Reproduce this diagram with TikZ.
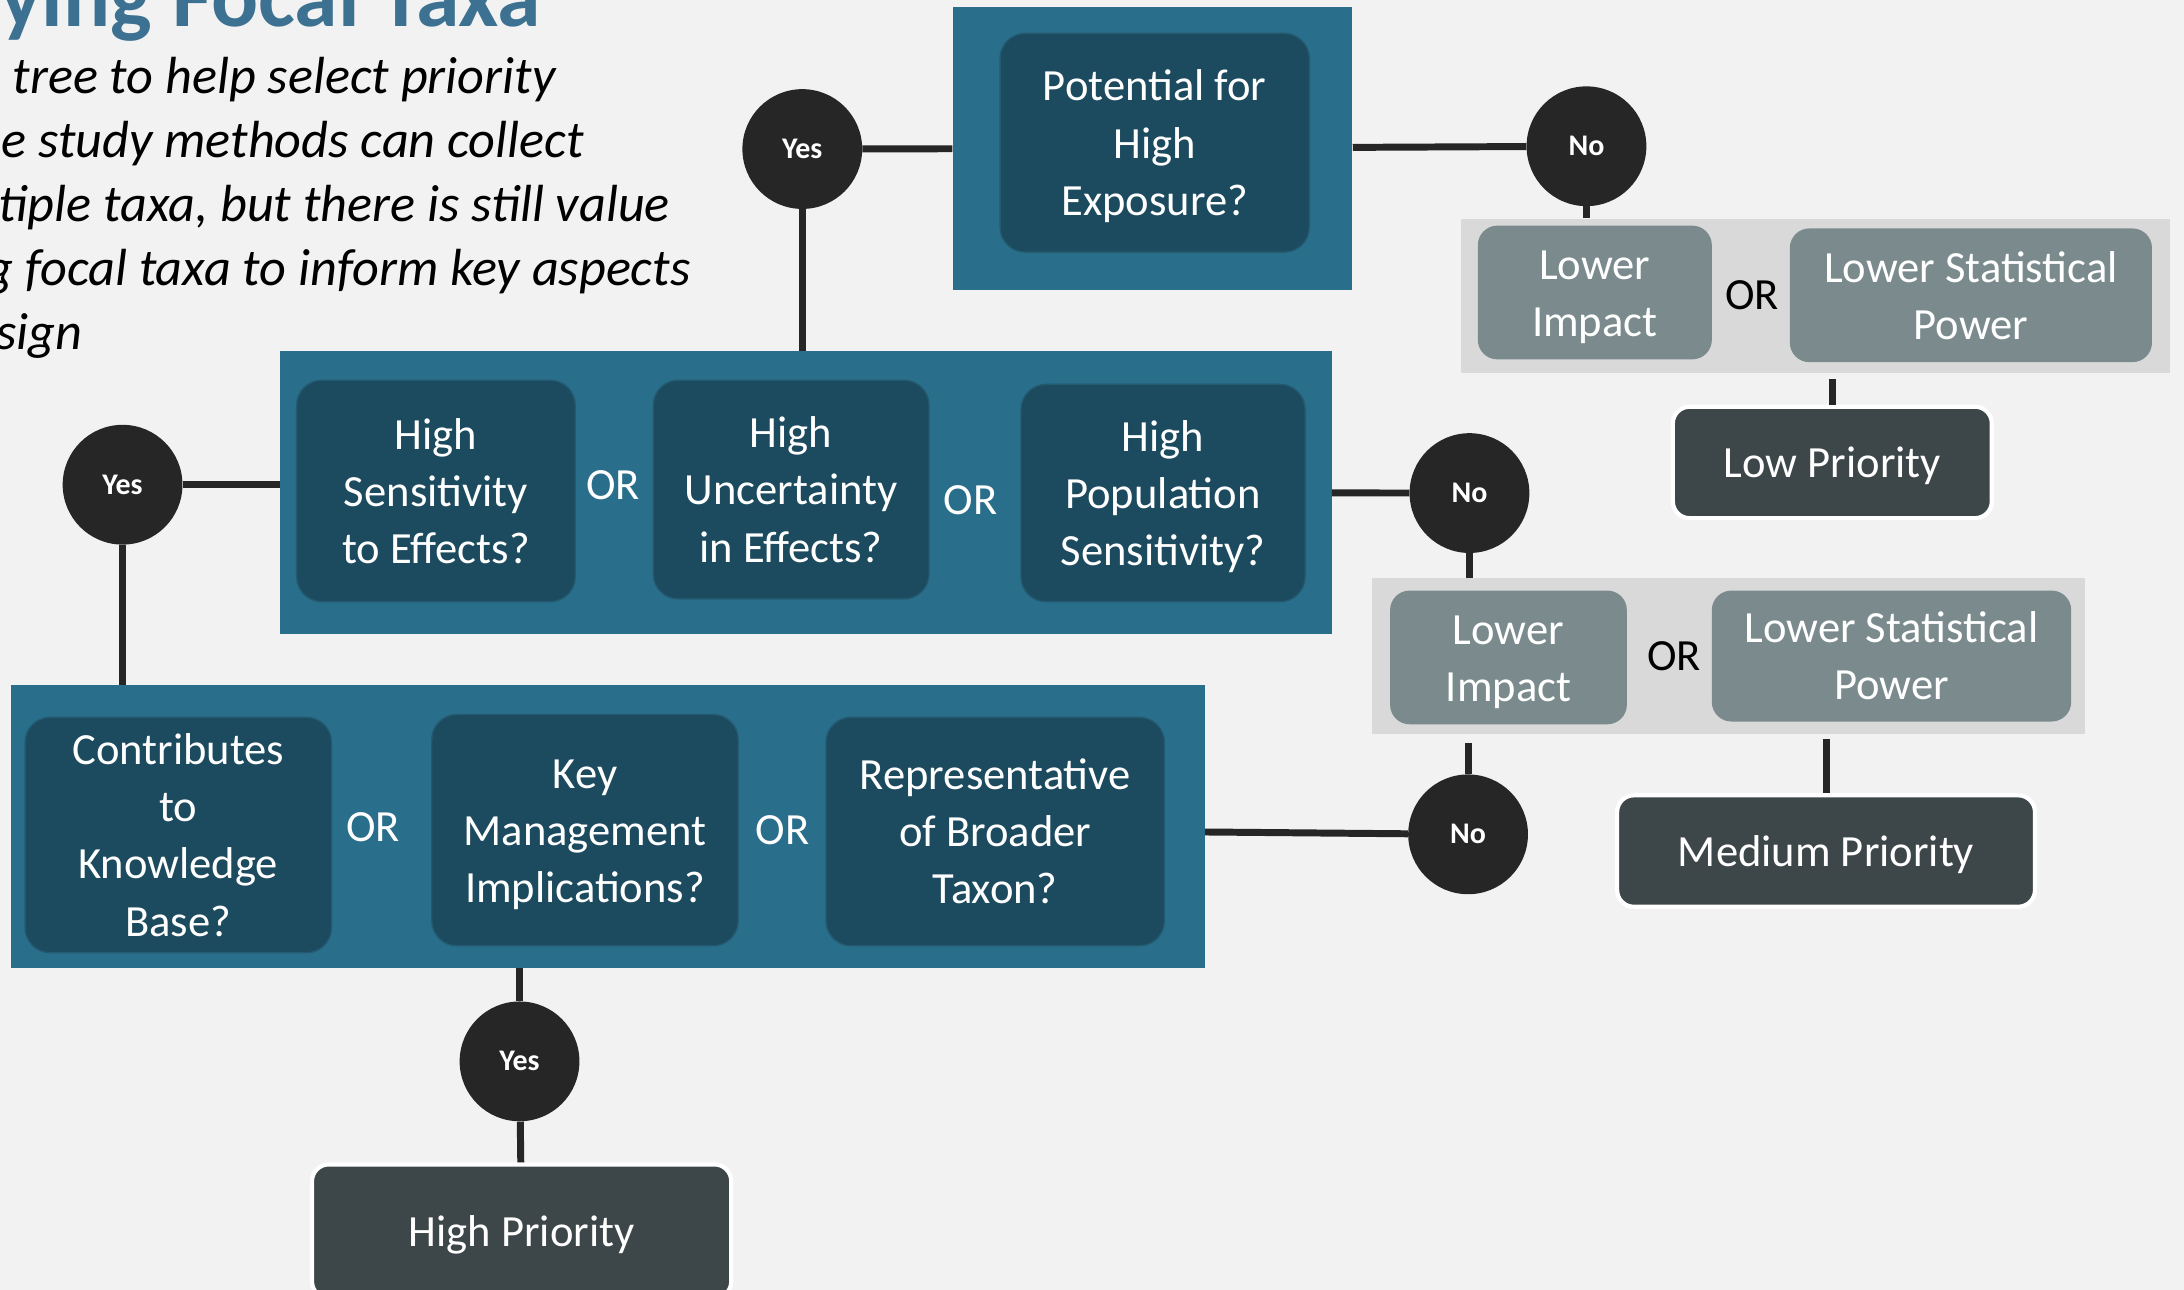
\documentclass[tikz,border=0pt]{standalone}
\usepackage{fontspec}
\setmainfont{Carlito}
\usetikzlibrary{calc}
\definecolor{bg}{HTML}{F2F2F2}
\definecolor{tealout}{HTML}{296E8A}
\definecolor{tealin}{HTML}{1C4A5E}
\definecolor{tealedge}{HTML}{245A70}
\definecolor{grpgray}{HTML}{D9D9D9}
\definecolor{boxgray}{HTML}{7B8B8D}
\definecolor{prio}{HTML}{3D4648}
\definecolor{dotc}{HTML}{262626}
\definecolor{titleblue}{HTML}{3C7191}
\newcommand\qqfont{\fontsize{32}{41}\selectfont}
\newcommand\ddfont{\fontsize{21.5}{25}\selectfont\bfseries}
\newcommand\tstrut{\rule[-8pt]{0pt}{38pt}}
\tikzset{
 strutted/.style={execute at begin node=\tstrut, execute at end node=\tstrut},
 outerbox/.style={rectangle, fill=tealout, inner sep=0pt},
 qbox/.style={rectangle, rounded corners=18pt, fill=tealin, draw=tealedge, line width=1pt, text=white, align=center, font=\qqfont, inner sep=0pt, strutted},
 orw/.style={text=white, font=\qqfont, inner sep=0pt},
 ork/.style={text=black, font=\qqfont, inner sep=0pt},
 grp/.style={rectangle, fill=grpgray, inner sep=0pt},
 gbox/.style={rectangle, rounded corners=14pt, fill=boxgray, text=white, align=center, font=\qqfont, inner sep=0pt, strutted},
 prbox/.style={rectangle, rounded corners=12pt, fill=prio, draw=white, line width=3pt, text=white, font=\qqfont, inner sep=0pt, strutted},
 yn/.style={circle, fill=dotc, text=white, font=\ddfont, inner sep=0pt, minimum size=86pt},
 conn/.style={draw=dotc, line width=5pt},
 bodytxt/.style={anchor=base west, inner sep=0pt, text=black, font=\fontsize{37.5}{45}\selectfont\itshape},
}
\begin{document}
\begin{tikzpicture}[x=1pt,y=-1pt]
\fill[bg] (0,0) rectangle (1568,926);
\useasboundingbox (0,0) rectangle (1568,926);

% title and intro text
\node[anchor=base west, inner sep=0pt, text=titleblue, font=\fontsize{63}{72}\selectfont\bfseries] (title) at (0,19) {ying Focal Taxa};
\node[bodytxt] (l1) at (9,67) {tree to help select priority};
\node[bodytxt] (l2) at (1,113) {e study methods can collect};
\node[bodytxt] (l3) at (-1,159) {tiple taxa, but there is still value};
\node[bodytxt] (l4) at (-10,205) {g focal taxa to inform key aspects};
\node[bodytxt] (l5) at (-3,251) {sign};

% box A
\node[outerbox, minimum width=287pt, minimum height=203pt] (Aout) at (827.5,106.5) {};
\node[qbox, minimum width=222pt, minimum height=157pt] (A1) at (829,102.5) {\tstrut Potential for\\High\\Exposure?};

% box B
\node[outerbox, minimum width=755pt, minimum height=203pt] (Bout) at (578.5,353.5) {};
\node[qbox, minimum width=200pt, minimum height=159pt] (B1) at (313,352.5) {\tstrut High\\Sensitivity\\to Effects?};
\node[orw] (orB1) at (440,348) {OR};
\node[qbox, minimum width=198pt, minimum height=157pt] (B2) at (568,351.5) {\tstrut High\\Uncertainty\\in Effects?};
\node[orw] (orB2) at (697,359) {OR};
\node[qbox, minimum width=204pt, minimum height=156pt] (B3) at (835,354) {\tstrut High\\Population\\Sensitivity?};

% box C
\node[outerbox, minimum width=857pt, minimum height=203pt] (Cout) at (436.5,593.5) {};
\node[qbox, minimum width=220pt, minimum height=169pt] (C1) at (128,599.5) {\tstrut Contributes\\to\\Knowledge\\Base?};
\node[orw] (orC1) at (268,594) {OR};
\node[qbox, minimum width=220pt, minimum height=166pt] (C2) at (420,596) {\tstrut Key\\Management\\Implications?};
\node[orw] (orC2) at (562,596) {OR};
\node[qbox, minimum width=243pt, minimum height=164pt] (C3) at (714.5,597) {\tstrut Representative\\of Broader\\Taxon?};

% gray group 1
\node[grp, minimum width=509pt, minimum height=111pt] (G1) at (1303.5,212.5) {};
\node[gbox, minimum width=168pt, minimum height=96pt] (G1a) at (1145,210) {\tstrut Lower\\Impact};
\node[ork] (orG1) at (1258,212) {OR};
\node[gbox, minimum width=260pt, minimum height=96pt] (G1b) at (1415,212) {\tstrut Lower Statistical\\Power};

% gray group 2
\node[grp, minimum width=512pt, minimum height=112pt] (G2) at (1241,471) {};
\node[gbox, minimum width=170pt, minimum height=96pt] (G2a) at (1083,472) {\tstrut Lower\\Impact};
\node[ork] (orG2) at (1202,471) {OR};
\node[gbox, minimum width=258pt, minimum height=94pt] (G2b) at (1358,471) {\tstrut Lower Statistical\\Power};

% priorities
\node[prbox, minimum width=229pt, minimum height=80pt] (Low) at (1315.5,332) {Low Priority};
\node[prbox, minimum width=300pt, minimum height=80pt] (Med) at (1311,611) {Medium Priority};
\node[prbox, minimum width=301pt, minimum height=96pt] (High) at (374.5,884) {High Priority};

% yes / no circles
\node[yn] (Yes1) at (576,107) {Yes};
\node[yn] (No1) at (1139,105) {No};
\node[yn] (Yes2) at (88,348) {Yes};
\node[yn] (No2) at (1055,354) {No};
\node[yn] (No3) at (1054,599) {No};
\node[yn] (Yes3) at (373,762) {Yes};

% connectors
\draw[conn] (Yes1) -- (Aout);
\draw[conn] (Aout) -- (No1);
\draw[conn] (Yes1) -- (Yes1 |- Bout.north);
\draw[conn] (No1) -- (No1 |- G1.north);
\draw[conn, shorten >=4pt] (Low) -- (Low |- G1.south);
\draw[conn] (Yes2) -- (Yes2 -| Bout.west);
\draw[conn] (Yes2) -- (Yes2 |- Cout.north);
\draw[conn] (Bout) -- (No2);
\draw[conn] (No2) -- (No2 |- G2.north);
\draw[conn, shorten >=6pt] (No3) -- (No3 |- G2.south);
\draw[conn, shorten >=3pt] (Med) -- (Med |- G2.south);
\draw[conn] (Cout) -- (No3);
\draw[conn] (Yes3) -- (Yes3 |- Cout.south);
\draw[conn] (Yes3) -- (High);
\end{tikzpicture}
\end{document}
